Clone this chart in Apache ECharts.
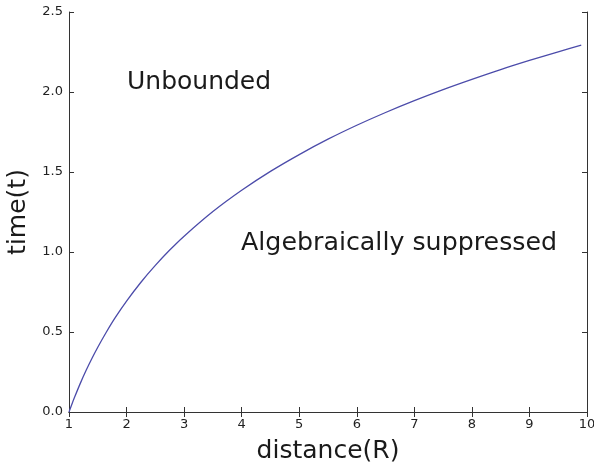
<!DOCTYPE html>
<html>
<head>
<meta charset="utf-8">
<script src="https://cdn.jsdelivr.net/npm/echarts@6/dist/echarts.min.js"></script>
<style>
  html, body { margin: 0; padding: 0; background: #fff; }
  #chart { width: 594px; height: 463px; }
</style>
</head>
<body>
<div id="chart"></div>
<script>
// distance R and time t
const distance = [1, 1.05, 1.1, 1.2, 1.3, 1.4, 1.5, 1.65, 1.8, 2, 2.25, 2.5, 2.75, 3, 3.5, 4, 4.5, 5, 5.5, 6, 6.5, 7, 7.5, 8, 8.5, 9, 9.5, 9.9]
const time = [0, 0.049, 0.095, 0.182, 0.262, 0.336, 0.405, 0.5, 0.588, 0.693, 0.811, 0.916, 1.012, 1.099, 1.253, 1.386, 1.504, 1.609, 1.705, 1.792, 1.872, 1.946, 2.015, 2.079, 2.14, 2.197, 2.251, 2.293]
const xTicks = [1, 2, 3, 4, 5, 6, 7, 8, 9, 10]
const yTicks = [0.0, 0.5, 1.0, 1.5, 2.0, 2.5]

const font = 'DejaVu Sans'
const axisColor = '#333'

const chart = echarts.init(document.getElementById('chart'))

const baseAxis = {
  axisLine: { show: true, lineStyle: { color: axisColor, width: 1 } },
  axisTick: { show: true, inside: true, length: 5, lineStyle: { color: axisColor } },
  splitLine: { show: false }
}

const options = {
  animation: false,
  grid: { left: 69, right: 7, top: 12, bottom: 51, outerBoundsMode: 'none', containLabel: false },
  xAxis: [
    {
      ...baseAxis,
      type: 'value',
      min: xTicks[0],
      max: xTicks[xTicks.length - 1],
      interval: 1,
      name: 'distance(R)',
      nameLocation: 'middle',
      nameGap: 27,
      nameTextStyle: { fontFamily: font, fontSize: 25, color: '#1a1a1a' },
      axisLabel: { fontFamily: font, fontSize: 13, color: '#222', margin: 6 }
    },
    {
      ...baseAxis,
      type: 'value',
      position: 'top',
      min: xTicks[0],
      max: xTicks[xTicks.length - 1],
      interval: 1,
      axisLabel: { show: false }
    }
  ],
  yAxis: [
    {
      ...baseAxis,
      type: 'value',
      min: 0,
      max: yTicks[yTicks.length - 1],
      interval: 0.5,
      name: 'time(t)',
      nameLocation: 'middle',
      nameGap: 38,
      nameTextStyle: { fontFamily: font, fontSize: 25, color: '#1a1a1a' },
      axisLabel: {
        fontFamily: font,
        fontSize: 13,
        color: '#222',
        margin: 6,
        formatter: v => v.toFixed(1)
      }
    },
    {
      ...baseAxis,
      type: 'value',
      position: 'right',
      min: 0,
      max: yTicks[yTicks.length - 1],
      interval: 0.5,
      axisLabel: { show: false }
    }
  ],
  graphic: [
    {
      type: 'text',
      left: 127,
      top: 70,
      style: { text: 'Unbounded', font: '25px "DejaVu Sans"', fill: '#1a1a1a' }
    },
    {
      type: 'text',
      left: 241,
      top: 231,
      style: { text: 'Algebraically suppressed', font: '25.3px "DejaVu Sans"', fill: '#1a1a1a' }
    }
  ],
  series: [
    {
      type: 'line',
      data: distance.map((d, i) => [d, time[i]]),
      smooth: 0.3,
      showSymbol: false,
      lineStyle: { color: '#4c4caa', width: 1.3 }
    }
  ]
}

chart.setOption(options)
</script>
</body>
</html>
